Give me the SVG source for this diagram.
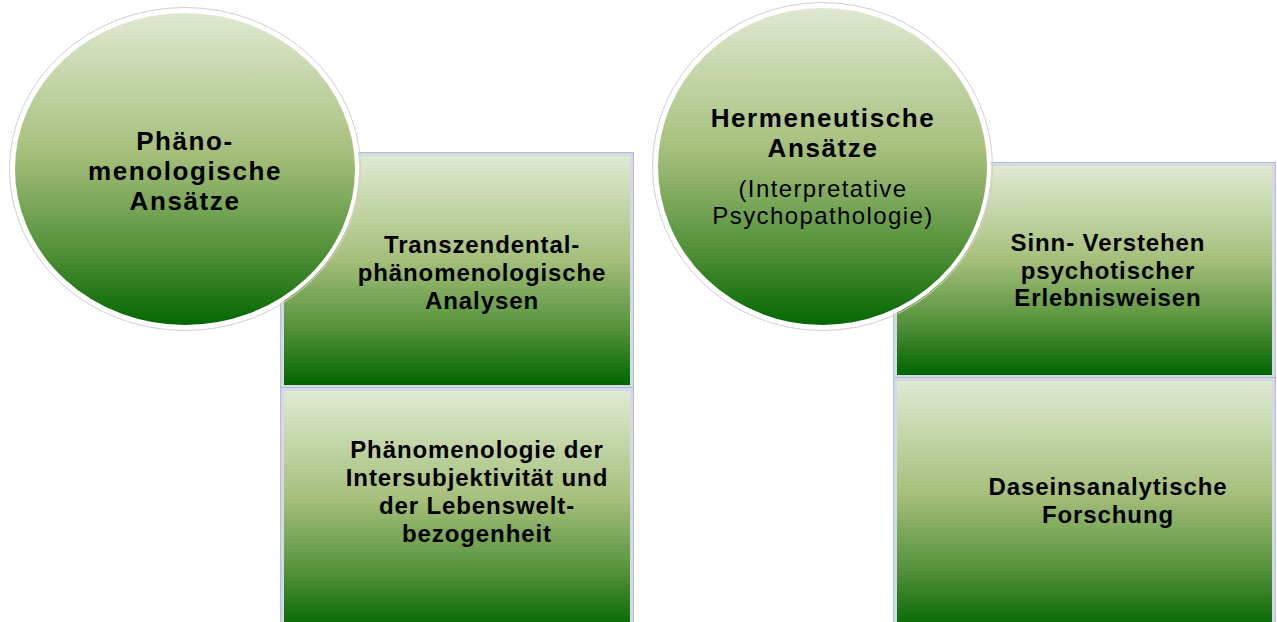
<svg xmlns="http://www.w3.org/2000/svg" width="1277" height="622" viewBox="0 0 1277 622">
<defs>
<linearGradient id="g" x1="0" y1="0" x2="0" y2="1">
<stop offset="0" stop-color="#e0e9d2"/>
<stop offset="0.45" stop-color="#a6bf7b"/>
<stop offset="0.75" stop-color="#55923b"/>
<stop offset="1" stop-color="#006600"/>
</linearGradient>
<style>
.frame{fill:#d3dae5;stroke:#b4bfcd;stroke-width:1}
.inner{fill:url(#g)}
.halo{fill:none;stroke:#d0d0d0;stroke-width:1}
.ring{fill:url(#g);stroke:#ffffff;stroke-width:4}
text{font-family:"Liberation Sans",Arial,sans-serif;fill:#000;text-anchor:middle}
.cb{font-size:26px;font-weight:bold;letter-spacing:1.6px}
.cr{font-size:24px;letter-spacing:1.4px}
.bb{font-size:24px;font-weight:bold;letter-spacing:0.9px}
</style>
</defs>
<rect width="1277" height="622" fill="#ffffff"/>
<g id="box-transzendental">
<rect class="frame" x="280.5" y="152.5" width="353" height="236"/>
<rect class="inner" x="284" y="156" width="346" height="229"/>
<text class="bb" x="482" y="253">Transzendental-</text>
<text class="bb" x="482" y="281">phänomenologische</text>
<text class="bb" x="482" y="309">Analysen</text>
</g>
<g id="box-intersubjektivitaet">
<rect class="frame" x="280.5" y="387.5" width="353" height="240"/>
<rect class="inner" x="284" y="391" width="346" height="240"/>
<text class="bb" x="477" y="458">Phänomenologie der</text>
<text class="bb" x="477" y="486">Intersubjektivität und</text>
<text class="bb" x="477" y="514">der Lebenswelt-</text>
<text class="bb" x="477" y="542">bezogenheit</text>
</g>
<g id="circle-phaenomenologisch">
<ellipse class="halo" cx="185" cy="169" rx="175.5" ry="161.5"/>
<ellipse class="ring" cx="185" cy="169" rx="172" ry="158"/>
<text class="cb" x="185" y="150">Phäno-</text>
<text class="cb" x="185" y="180">menologische</text>
<text class="cb" x="185" y="210">Ansätze</text>
</g>
<g id="box-sinnverstehen">
<rect class="frame" x="893.5" y="162.5" width="382" height="215"/>
<rect class="inner" x="897" y="166" width="375" height="209"/>
<text class="bb" x="1108" y="251">Sinn- Verstehen</text>
<text class="bb" x="1108" y="279">psychotischer</text>
<text class="bb" x="1108" y="306">Erlebnisweisen</text>
</g>
<g id="box-daseinsanalyse">
<rect class="frame" x="893.5" y="377.5" width="382" height="250"/>
<rect class="inner" x="897" y="381" width="375" height="250"/>
<text class="bb" x="1108" y="495">Daseinsanalytische</text>
<text class="bb" x="1108" y="523">Forschung</text>
</g>
<g id="circle-hermeneutisch">
<ellipse class="halo" cx="822.5" cy="166.5" rx="170" ry="164"/>
<ellipse class="ring" cx="822.5" cy="166.5" rx="166.5" ry="160.5"/>
<text class="cb" x="823" y="127">Hermeneutische</text>
<text class="cb" x="823" y="157">Ansätze</text>
<text class="cr" x="823" y="197">(Interpretative</text>
<text class="cr" x="823" y="224">Psychopathologie)</text>
</g>
<g id="connectors"></g>
</svg>
